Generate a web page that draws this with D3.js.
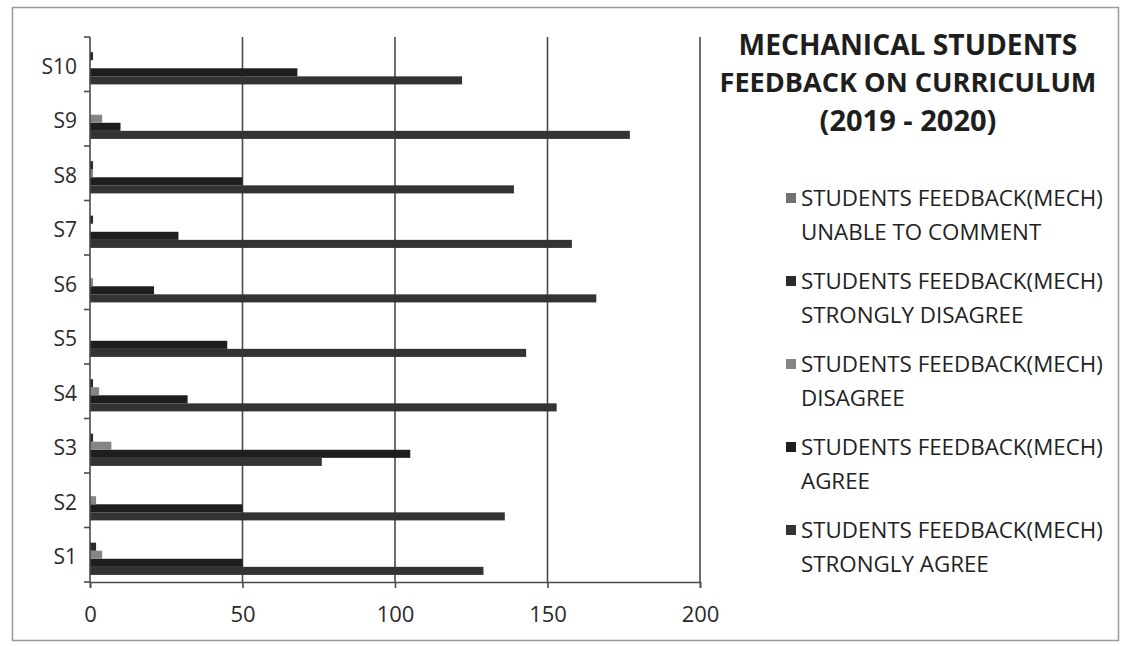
<!DOCTYPE html>
<html>
<head>
<meta charset="utf-8">
<script src="https://cdn.jsdelivr.net/npm/d3@7"></script>
<style>
  html, body { margin: 0; padding: 0; background: #fff; }
  svg { display: block; }
  text { font-family: "Open Sans", "Noto Sans", sans-serif; fill: #2b2b2b; }
</style>
</head>
<body>
<svg id="chart" width="1124" height="646"></svg>
<script>
// ---------- data ----------
const categories = ["S1", "S2", "S3", "S4", "S5", "S6", "S7", "S8", "S9", "S10"];
const seriesNames = [
  "STUDENTS FEEDBACK(MECH) STRONGLY AGREE",
  "STUDENTS FEEDBACK(MECH) AGREE",
  "STUDENTS FEEDBACK(MECH) DISAGREE",
  "STUDENTS FEEDBACK(MECH) STRONGLY DISAGREE",
  "STUDENTS FEEDBACK(MECH) UNABLE TO COMMENT"
];
const stronglyAgree    = [129, 136, 76, 153, 143, 166, 158, 139, 177, 122];
const agree            = [50, 50, 105, 32, 45, 21, 29, 50, 10, 68];
const disagree         = [4, 2, 7, 3, 0, 1, 0, 1, 4, 0];
const stronglyDisagree = [2, 0, 1, 1, 0, 0, 1, 1, 0, 1];
const unableToComment  = [0, 0, 0, 0, 0, 0, 0, 0, 0, 0];
const xTicks = [0, 50, 100, 150, 200];
const titleLines = ["MECHANICAL STUDENTS", "FEEDBACK ON CURRICULUM", "(2019 - 2020)"];

const seriesValues = [stronglyAgree, agree, disagree, stronglyDisagree, unableToComment];
const seriesColors = ["#333333", "#1e1e1e", "#858585", "#2a2a2a", "#737373"];

// ---------- layout ----------
const svg = d3.select("#chart");
const plot = { left: 90, right: 700, top: 37, bottom: 582 };

// outer frame
svg.append("rect")
  .attr("x", 12.5).attr("y", 7.5).attr("width", 1106).attr("height", 633)
  .attr("fill", "none").attr("stroke", "#9a9a9a").attr("stroke-width", 1.5);

const x = d3.scaleLinear().domain([0, 200]).range([plot.left, plot.right]);
const y = d3.scaleBand().domain(categories.slice().reverse())
  .range([plot.top, plot.bottom]).paddingInner(0.26).paddingOuter(0.13);
const yOuter = d3.scaleBand().domain(categories.slice().reverse())
  .range([plot.top, plot.bottom]);
// series order: first series at bottom of the group
const ySub = d3.scaleBand().domain(d3.range(seriesNames.length).reverse())
  .range([0, y.bandwidth()]);

// gridlines
svg.append("g").selectAll("line")
  .data(xTicks.filter(d => d > 0))
  .join("line")
  .attr("x1", d => x(d)).attr("x2", d => x(d))
  .attr("y1", plot.top).attr("y2", plot.bottom)
  .attr("stroke", "#4a4a4a").attr("stroke-width", 1.6);

// bars
const groups = svg.append("g").selectAll("g")
  .data(categories)
  .join("g")
  .attr("transform", d => `translate(0,${y(d)})`);

groups.selectAll("rect")
  .data((c, ci) => seriesValues.map((vals, si) => ({ si, v: vals[ci] })))
  .join("rect")
  .attr("x", x(0))
  .attr("y", d => ySub(d.si))
  .attr("width", d => x(d.v) - x(0))
  .attr("height", ySub.bandwidth())
  .attr("fill", d => seriesColors[d.si]);

// y axis
const yAxisG = svg.append("g")
  .attr("transform", `translate(${plot.left},0)`);
yAxisG.append("line")
  .attr("x1", 0).attr("x2", 0).attr("y1", plot.top).attr("y2", plot.bottom)
  .attr("stroke", "#4a4a4a").attr("stroke-width", 1.6);
const boundaries = categories.map(c => yOuter(c)).concat([plot.bottom]);
yAxisG.selectAll("line.tick")
  .data(boundaries)
  .join("line").attr("class", "tick")
  .attr("x1", -6).attr("x2", 0)
  .attr("y1", d => d).attr("y2", d => d)
  .attr("stroke", "#4a4a4a").attr("stroke-width", 1.6);
yAxisG.selectAll("text")
  .data(categories)
  .join("text")
  .attr("x", -13)
  .attr("y", d => yOuter(d) + yOuter.bandwidth() / 2 + 2)
  .attr("dy", "0.35em")
  .attr("text-anchor", "end")
  .style("font-size", "21px")
  .text(d => d);

// x axis
const xAxisG = svg.append("g")
  .attr("transform", `translate(0,${plot.bottom})`)
  .call(d3.axisBottom(x).tickValues(xTicks).tickSize(6).tickPadding(18));
xAxisG.attr("font-size", null).attr("font-family", null);
xAxisG.select(".domain").attr("stroke", "#4a4a4a").attr("stroke-width", 1.6);
xAxisG.selectAll(".tick line").attr("stroke", "#4a4a4a").attr("stroke-width", 1.6);
xAxisG.selectAll(".tick text")
  .style("font-size", "22px")
  .style("fill", "#2b2b2b");

// fit helper
function fitWidth(sel, target) {
  const w = sel.node().getComputedTextLength();
  const fs = parseFloat(sel.style("font-size"));
  sel.style("font-size", (fs * target / w) + "px");
}

// title
const titleWidths = [339, 377, 177];
const titleY = [45, 83, 121];
titleLines.forEach((t, i) => {
  const tx = svg.append("text")
    .attr("x", 908).attr("y", titleY[i])
    .attr("dy", "0.35em")
    .attr("text-anchor", "middle")
    .attr("font-weight", "bold")
    .style("font-size", "21px")
    .style("fill", "#1e1e1e")
    .text(t);
  fitWidth(tx, titleWidths[i]);
});

// legend (reverse order: last series at top)
const legendOrder = d3.range(seriesNames.length).reverse();
const legendY0 = 198, legendStep = 83, lineGap = 34;
const lg = svg.append("g");
legendOrder.forEach((si, k) => {
  const yy = legendY0 + k * legendStep;
  const name = seriesNames[si];
  const prefix = "STUDENTS FEEDBACK(MECH)";
  const rest = name.slice(prefix.length + 1);
  lg.append("rect")
    .attr("x", 786).attr("y", yy - 5).attr("width", 10).attr("height", 10)
    .attr("fill", seriesColors[si]);
  const t1 = lg.append("text")
    .attr("x", 801).attr("y", yy).attr("dy", "0.35em")
    .style("font-size", "19px").style("fill", "#222").text(prefix);
  fitWidth(t1, 302);
  lg.append("text")
    .attr("x", 801).attr("y", yy + lineGap).attr("dy", "0.35em")
    .style("font-size", t1.style("font-size")).style("fill", "#222").text(rest);
});
</script>
</body>
</html>
